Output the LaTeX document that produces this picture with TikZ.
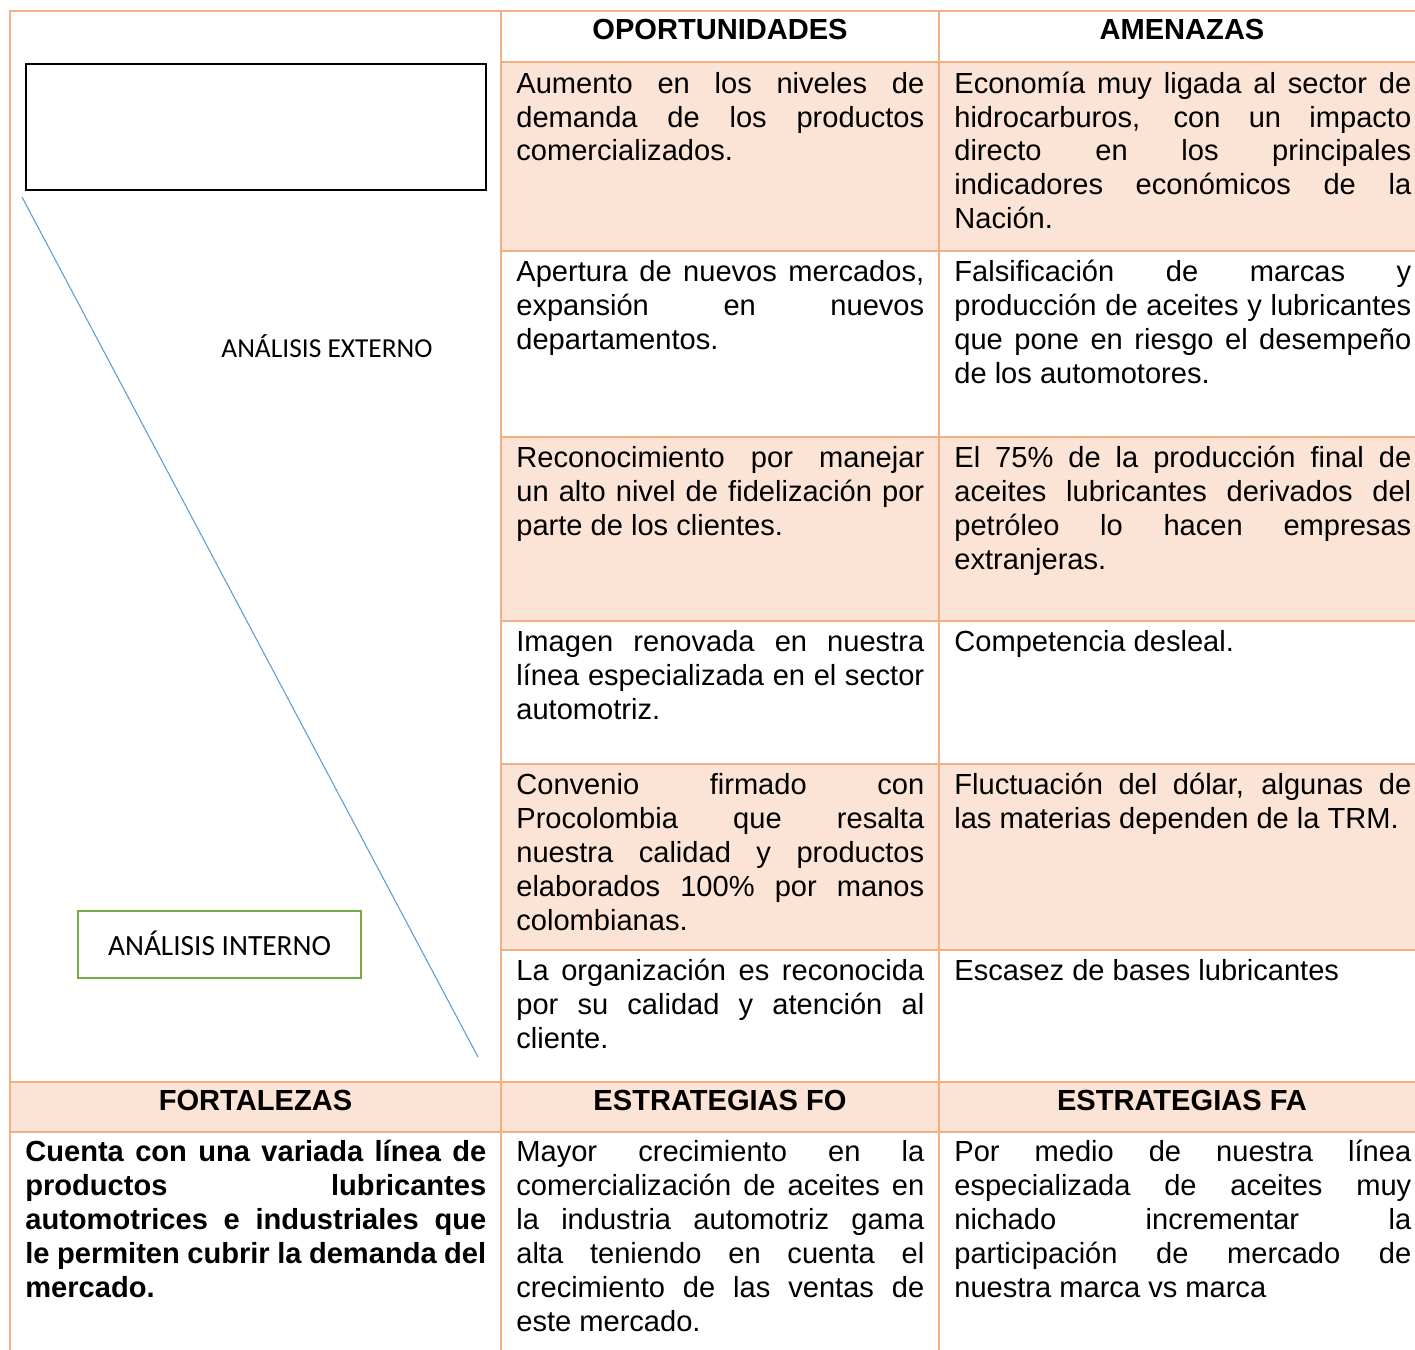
\documentclass[tikz,border=0pt]{standalone}
\usepackage{fontspec}
\setmainfont{Liberation Sans}
\newfontfamily\calibrifont{Carlito}
\usepackage{xcolor}
\usepackage{tikz}
\usetikzlibrary{positioning}
\definecolor{tablecolor}{RGB}{244, 176, 131}
\definecolor{swotshade}{RGB}{251, 228, 213}
\definecolor{diagcolor}{RGB}{91, 155, 213}
\definecolor{internocolor}{RGB}{112, 173, 71}
\newcommand{\cellfont}{\fontsize{16.55}{19.3}\selectfont}
\tolerance=10000
\hbadness=10000
\hyphenpenalty=10000

\begin{document}
\begin{tikzpicture}[
    x=0.02cm, y=-0.02cm,
    tableline/.style={draw=tablecolor, line width=1.3pt, line cap=rect},
    cell/.style={anchor=north west, inner sep=0pt, align=justify, font=\cellfont, execute at begin node=\strut},
    narrow/.style={cell, text width=8.16cm},
    wide/.style={cell, text width=9.14cm},
    head/.style={anchor=base, inner sep=0pt, font=\cellfont\bfseries},
]
    \useasboundingbox (0,0) rectangle (1415,1349);

    % Shaded rows
    \fill[swotshade] (501,62) rectangle (1415,251);
    \fill[swotshade] (501,437) rectangle (1415,621);
    \fill[swotshade] (501,764) rectangle (1415,950);
    \fill[swotshade] (10,1082) rectangle (1415,1132);

    % Table lines
    \foreach \y in {62,251,437,621,764,950}
        \draw[tableline] (501,\y) -- (1415,\y);
    \foreach \y in {11,1082,1132}
        \draw[tableline] (10,\y) -- (1415,\y);
    \foreach \x in {10,501,939}
        \draw[tableline] (\x,11) -- (\x,1349);

    % Corner cell
    \node[draw=black, line width=1pt, inner sep=0pt, minimum width=9.2cm, minimum height=2.52cm] (emptybox) at (256,127) {};
    \coordinate (diagtop) at (22,197);
    \coordinate (diagend) at (478,1057);
    \draw[diagcolor, line width=0.6pt] (diagtop) -- (diagend);
    \node[anchor=base, inner sep=0pt, font=\calibrifont\fontsize{15.6}{18}\selectfont] (externo) at (327,357) {ANÁLISIS EXTERNO};
    \node[draw=internocolor, line width=1.2pt, inner sep=0pt, minimum width=5.66cm, minimum height=1.34cm,
          text height=1.2em, text depth=0pt, font=\calibrifont\fontsize{16.7}{19}\selectfont] (interno) at (219.5,944.5) {ANÁLISIS INTERNO};

    % Headers
    \node[head] (hoport) at (720,39.5) {OPORTUNIDADES};
    \node[head] (hamen) at (1182,39.5) {AMENAZAS};
    \node[head] (hfort) at (255.5,1110) {FORTALEZAS};
    \node[head] (hfo) at (720,1110) {ESTRATEGIAS FO};
    \node[head] (hfa) at (1182,1110) {ESTRATEGIAS FA};

    % Oportunidades
    \node[narrow] (o1) at (516,69) {Aumento en los niveles de\linebreak demanda de los productos\linebreak comercializados.};
    \node[narrow] (o2) at (516,257.5) {Apertura de nuevos mercados,\linebreak expansión en nuevos\linebreak departamentos.};
    \node[narrow] (o3) at (516,443.5) {Reconocimiento por manejar\linebreak un alto nivel de fidelización por\linebreak parte de los clientes.};
    \node[narrow] (o4) at (516,627.5) {Imagen renovada en nuestra\linebreak línea especializada en el sector\linebreak automotriz.};
    \node[narrow] (o5) at (516,770.5) {Convenio firmado con\linebreak Procolombia que resalta\linebreak nuestra calidad y productos\linebreak elaborados 100\% por manos\linebreak colombianas.};
    \node[narrow] (o6) at (516,956.5) {La organización es reconocida\linebreak por su calidad y atención al\linebreak cliente.};

    % Amenazas
    \node[wide] (a1) at (954,69) {Economía muy ligada al sector de\linebreak hidrocarburos, con un impacto\linebreak directo en los principales\linebreak indicadores económicos de la\linebreak Nación.};
    \node[wide] (a2) at (954,257.5) {Falsificación de marcas y\linebreak producción de aceites y lubricantes\linebreak que pone en riesgo el desempeño\linebreak de los automotores.};
    \node[wide] (a3) at (954,443.5) {El 75\% de la producción final de\linebreak aceites lubricantes derivados del\linebreak petróleo lo hacen empresas\linebreak extranjeras.};
    \node[wide] (a4) at (954,627.5) {Competencia desleal.};
    \node[wide] (a5) at (954,770.5) {Fluctuación del dólar, algunas de\linebreak las materias dependen de la TRM.};
    \node[wide] (a6) at (954,956.5) {Escasez de bases lubricantes};

    % Fortalezas and strategies
    \node[cell, text width=9.22cm, font=\cellfont\bfseries] (fort) at (25,1137.5) {Cuenta con una variada línea de\linebreak productos lubricantes\linebreak automotrices e industriales que\linebreak le permiten cubrir la demanda del\linebreak mercado.};
    \node[narrow] (fo) at (516,1137.5) {Mayor crecimiento en la\linebreak comercialización de aceites en\linebreak la industria automotriz gama\linebreak alta teniendo en cuenta el\linebreak crecimiento de las ventas de\linebreak este mercado.};
    \node[wide] (fa) at (954,1137.5) {Por medio de nuestra línea\linebreak especializada de aceites muy\linebreak nichado incrementar la\linebreak participación de mercado de\linebreak nuestra marca vs marca};

\end{tikzpicture}
\end{document}
